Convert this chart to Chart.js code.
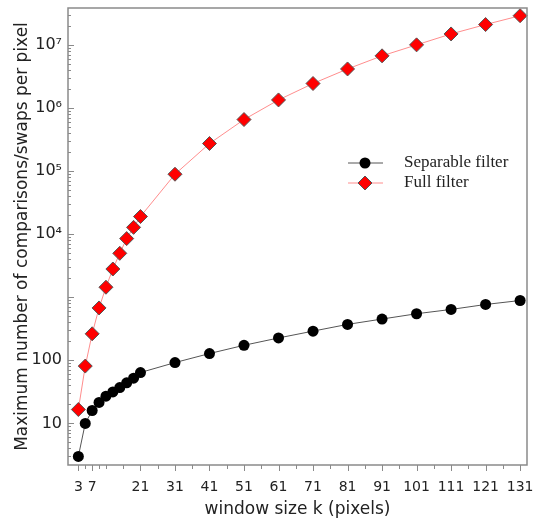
<!DOCTYPE html>
<html>
<head>
<meta charset="utf-8">
<script src="https://cdn.jsdelivr.net/npm/chart.js@4.4.0/dist/chart.umd.min.js"></script>
<style>
  html, body { margin: 0; padding: 0; background: #fff; }
  #wrap { width: 537px; height: 527px; position: relative; }
</style>
</head>
<body>
<div id="wrap"><canvas id="chart"></canvas></div>
<script>
// window size k (pixels)
const windowSizes = [3, 5, 7, 9, 11, 13, 15, 17, 19, 21, 31, 41, 51, 61, 71, 81, 91, 101, 111, 121, 131];
// comparisons/swaps per pixel
const separableOps = [3, 10, 16, 21.5, 27, 31.5, 37, 44, 52, 64, 92, 128, 173, 226, 290, 371, 451, 547, 640, 767, 887];
const fullOps = [16.6, 81, 263, 676, 1440, 2800, 4960, 8500, 12800, 19000, 89000, 273000, 655000, 1340000, 2440000, 4150000, 6700000, 10000000, 14900000, 21000000, 29000000];

const xTickValues = [3, 7, 21, 31, 41, 51, 61, 71, 81, 91, 101, 111, 121, 131];
const xMinorTicks = [5, 9, 11, 16, 26, 36, 46, 56, 66, 76, 86, 96, 106, 116, 126];
const yTickValues = [10, 100, 1000, 1e4, 1e5, 1e6, 1e7];
const yTickLabels = ['10', '100', '', '10⁴', '10⁵', '10⁶', '10⁷'];

const axisColor = '#8a8a8a';
const textColor = '#222';
const sans = '"DejaVu Sans", Verdana, sans-serif';

// frame + tick marks (outside on x, inside on y)
const frameAndTicks = {
  id: 'frameAndTicks',
  afterDraw(chart) {
    const { ctx, chartArea: a, scales: { x, y } } = chart;
    ctx.save();
    ctx.strokeStyle = axisColor;
    ctx.lineWidth = 1.5;
    ctx.strokeRect(a.left, a.top, a.right - a.left, a.bottom - a.top);

    ctx.lineWidth = 1;
    ctx.beginPath();
    xTickValues.forEach(v => {
      const px = Math.round(x.getPixelForValue(v)) + 0.5;
      ctx.moveTo(px, a.bottom);
      ctx.lineTo(px, a.bottom + 6);
    });
    xMinorTicks.forEach(v => {
      const px = Math.round(x.getPixelForValue(v)) + 0.5;
      ctx.moveTo(px, a.bottom);
      ctx.lineTo(px, a.bottom + 4);
    });
    for (let d = 0; d <= 7; d++) {
      for (let m = 1; m <= 9; m++) {
        const v = m * Math.pow(10, d);
        if (v < y.min || v > y.max) continue;
        const py = Math.round(y.getPixelForValue(v)) + 0.5;
        const len = m === 1 ? 6 : 3;
        ctx.moveTo(a.left, py);
        ctx.lineTo(a.left + len, py);
      }
    }
    ctx.stroke();
    ctx.restore();
  }
};

// legend drawn inside the plot, uses the dataset styles
const insideLegend = {
  id: 'insideLegend',
  afterDatasetsDraw(chart) {
    const { ctx } = chart;
    const x0 = 348, x1 = 383, xm = 365, tx = 404;
    const rows = [163, 183];
    ctx.save();
    chart.data.datasets.forEach((ds, i) => {
      const yy = rows[i];
      ctx.strokeStyle = ds.borderColor;
      ctx.lineWidth = 1;
      ctx.beginPath();
      ctx.moveTo(x0, yy);
      ctx.lineTo(x1, yy);
      ctx.stroke();
      ctx.fillStyle = ds.pointBackgroundColor;
      ctx.beginPath();
      if (ds.pointStyle === 'circle') {
        ctx.arc(xm, yy, ds.pointRadius, 0, Math.PI * 2);
        ctx.fill();
      } else {
        const r = ds.pointRadius;
        ctx.moveTo(xm, yy - r);
        ctx.lineTo(xm + r, yy);
        ctx.lineTo(xm, yy + r);
        ctx.lineTo(xm - r, yy);
        ctx.closePath();
        ctx.fill();
        ctx.strokeStyle = ds.pointBorderColor;
        ctx.stroke();
      }
      ctx.fillStyle = textColor;
      ctx.font = '17px "Liberation Serif", "Times New Roman", serif';
      ctx.textBaseline = 'middle';
      ctx.fillText(ds.label, tx, yy);
    });
    ctx.restore();
  }
};

const ctx = document.getElementById('chart').getContext('2d');
new Chart(ctx, {
  type: 'line',
  data: {
    datasets: [
      {
        label: 'Separable filter',
        data: windowSizes.map((k, i) => ({ x: k, y: separableOps[i] })),
        borderColor: '#555555',
        borderWidth: 1,
        pointStyle: 'circle',
        pointRadius: 5.5,
        pointBackgroundColor: '#000000',
        pointBorderColor: '#000000',
        pointBorderWidth: 0,
        tension: 0,
        clip: false
      },
      {
        label: 'Full filter',
        data: windowSizes.map((k, i) => ({ x: k, y: fullOps[i] })),
        borderColor: 'rgba(255,0,0,0.45)',
        borderWidth: 1,
        pointStyle: 'rectRot',
        pointRadius: 7,
        pointBackgroundColor: '#ff0000',
        pointBorderColor: '#555555',
        pointBorderWidth: 1,
        tension: 0,
        clip: false
      }
    ]
  },
  options: {
    responsive: true,
    maintainAspectRatio: false,
    animation: false,
    events: [],
    layout: { padding: { top: 6, right: 10, left: 0, bottom: 0 } },
    plugins: {
      legend: { display: false },
      tooltip: { enabled: false }
    },
    scales: {
      x: {
        type: 'linear',
        min: 0,
        max: 133,
        afterBuildTicks: scale => { scale.ticks = xTickValues.map(v => ({ value: v })); },
        afterFit: scale => {
          scale.height = 62;
          scale.paddingLeft = 0;
          scale.paddingRight = 0;
        },
        grid: { display: false, drawTicks: false },
        border: { display: false },
        ticks: {
          autoSkip: false,
          maxRotation: 0,
          padding: 14,
          color: textColor,
          font: { family: sans, size: 14 },
          callback: v => String(v)
        },
        title: {
          display: true,
          text: 'window size k (pixels)',
          color: textColor,
          font: { family: sans, size: 17 },
          padding: { top: 0, bottom: 7 }
        }
      },
      y: {
        type: 'logarithmic',
        min: 2.19,
        max: 3.84e7,
        afterBuildTicks: scale => { scale.ticks = yTickValues.map(v => ({ value: v })); },
        afterFit: scale => {
          scale.width = 68;
          scale.paddingTop = 0;
          scale.paddingBottom = 0;
        },
        grid: { display: false, drawTicks: false },
        border: { display: false },
        ticks: {
          autoSkip: false,
          padding: 6,
          color: textColor,
          font: { family: sans, size: 16 },
          callback: v => {
            const i = yTickValues.indexOf(v);
            return i >= 0 ? yTickLabels[i] : '';
          }
        },
        title: {
          display: true,
          text: 'Maximum number of comparisons/swaps per pixel',
          color: textColor,
          font: { family: sans, size: 17 },
          padding: { top: 12, bottom: 0 }
        }
      }
    }
  },
  plugins: [frameAndTicks, insideLegend]
});
</script>
</body>
</html>
